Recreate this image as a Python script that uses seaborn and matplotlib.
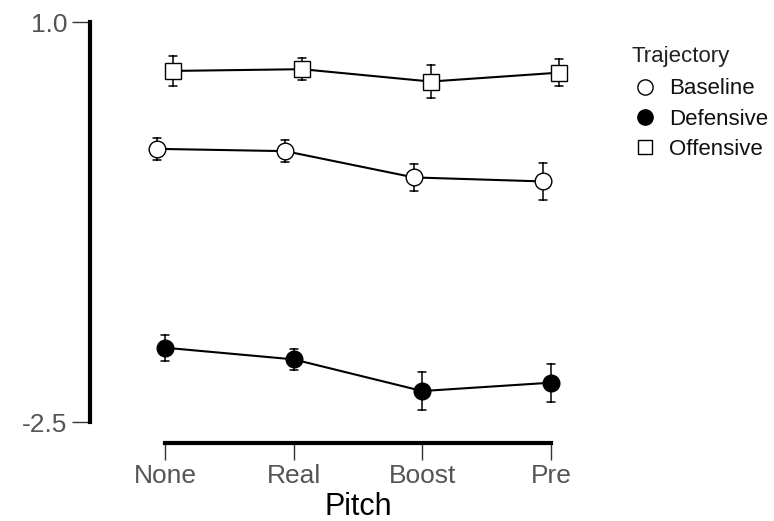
import numpy as np
import pandas as pd
import matplotlib
matplotlib.use("Agg")
import matplotlib.pyplot as plt
from matplotlib.lines import Line2D
import seaborn as sns

# ---- data ----
pitch = ["None", "Real", "Boost", "Pre"]
trajectories = ["Baseline", "Defensive", "Offensive"]
baseline_mean = [-0.11, -0.13, -0.36, -0.395]
baseline_err = [0.096, 0.099, 0.121, 0.16]
defensive_mean = [-1.85, -1.952, -2.229, -2.156]
defensive_err = [0.112, 0.09, 0.167, 0.167]
offensive_mean = [0.572, 0.587, 0.479, 0.557]
offensive_err = [0.128, 0.096, 0.143, 0.115]
y_ticks = [1.0, -2.5]
y_tick_labels = ["1.0", "-2.5"]
x_label = "Pitch"
legend_title = "Trajectory"

face_colors = ["white", "black", "white"]
markers = ["o", "o", "s"]
marker_sizes = [12, 12, 11]

means = {"Baseline": baseline_mean, "Defensive": defensive_mean, "Offensive": offensive_mean}
errs = {"Baseline": baseline_err, "Defensive": defensive_err, "Offensive": offensive_err}
rows = []
for t in trajectories:
    for p, m, e in zip(pitch, means[t], errs[t]):
        rows.append({"Trajectory": t, "Pitch": p, "Value": m - e})
        rows.append({"Trajectory": t, "Pitch": p, "Value": m + e})
df = pd.DataFrame(rows)

sns.set_style("ticks")
plt.rcParams["font.family"] = ["Liberation Sans", "DejaVu Sans"]

W, H = 774, 521
fig = plt.figure(figsize=(W / 100, H / 100), dpi=100)
ax_left, ax_right, ax_top, ax_bottom = 110, 596, 22, 422
ax = fig.add_axes([ax_left / W, 1 - ax_bottom / H, (ax_right - ax_left) / W, (ax_bottom - ax_top) / H])

sns.pointplot(
    data=df, x="Pitch", y="Value", hue="Trajectory",
    order=pitch, hue_order=trajectories,
    palette=["black"] * 3, markers=markers, linestyles="-",
    dodge=0.13, errorbar=lambda v: (v.min(), v.max()),
    capsize=0.062, err_kws={"linewidth": 1.1},
    linewidth=1.5, markersize=11, markeredgewidth=1.0,
    legend=False, ax=ax,
)

mlines = [l for l in ax.lines if l.get_marker() not in ("None", None, "", " ")]
for l, fc, ms in zip(mlines, face_colors, marker_sizes):
    l.set_markerfacecolor(fc)
    l.set_markeredgecolor("black")
    l.set_markersize(ms)
    l.set_zorder(4)

ax.set_ylim(-2.5, 1.0)
ax.set_xlim(-0.427, 3.35)
ax.set_yticks(y_ticks)
ax.set_yticklabels(y_tick_labels)

for s in ["top", "right"]:
    ax.spines[s].set_visible(False)
ax.spines["left"].set_position(("outward", 14.4))
ax.spines["bottom"].set_position(("outward", 14.9))
ax.spines["left"].set_linewidth(3)
ax.spines["bottom"].set_linewidth(3)
ax.spines["left"].set_color("black")
ax.spines["bottom"].set_color("black")
ax.spines["left"].set_bounds(-2.5, 1.0)
ax.spines["bottom"].set_bounds(0, 3)

ax.tick_params(axis="y", length=13, width=1, color="#333333", labelsize=19,
               labelcolor="#555555", pad=3.5)
ax.tick_params(axis="x", length=12, width=1, color="#333333", labelsize=19,
               labelcolor="#555555", pad=3)

ax.set_xlabel(x_label, fontsize=22, color="black")
ax.set_ylabel("")
ax.xaxis.set_label_coords((358 - ax_left) / (ax_right - ax_left), -0.175)

# legend title as text, entries as legend
fig.text(631 / W, 1 - 61.7 / H, legend_title, fontsize=16, color="#222222",
         ha="left", va="baseline")
handles = [Line2D([], [], linestyle="None", marker=m, markersize=11 if m == "o" else 10.5,
                  markerfacecolor=fc, markeredgecolor="black", markeredgewidth=1.0)
           for m, fc in zip(markers, face_colors)]
leg = fig.legend(handles, trajectories, loc="upper left",
                 bbox_to_anchor=(631 / W, 1 - 78.5 / H), frameon=False,
                 fontsize=16, borderpad=0, borderaxespad=0,
                 handlelength=1.27, handletextpad=0.45, labelspacing=0.41)
for t in leg.get_texts():
    t.set_color("#111111")

fig.savefig("out.png", dpi=100, facecolor="white")
